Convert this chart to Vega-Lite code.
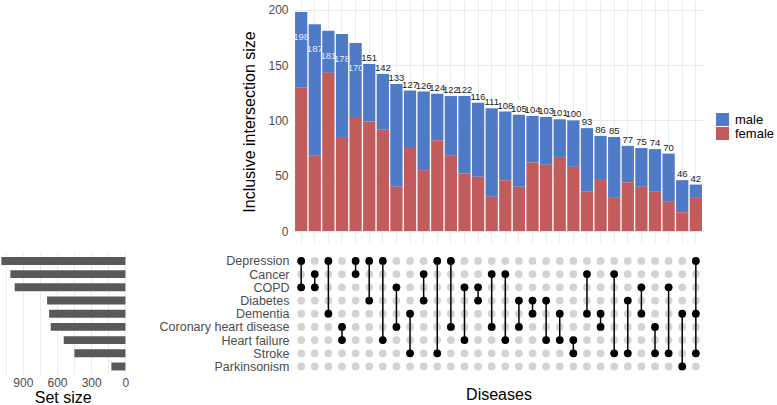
{
"$schema":"https://vega.github.io/schema/vega-lite/v6.json",
"padding":{"left":0,"top":1,"right":0,"bottom":0},
"config":{"view":{"stroke":null},"font":"Liberation Sans","axis":{"labelFont":"Liberation Sans","titleFont":"Liberation Sans"},"legend":{"labelFont":"Liberation Sans"}},
"datasets":{
"inter":[
{"r":1,"total":198,"female":130,"male":68,"Depression":1,"Cancer":0,"COPD":1,"Diabetes":0,"Dementia":0,"Coronary heart disease":0,"Heart failure":0,"Stroke":0,"Parkinsonism":0},
{"r":2,"total":187,"female":68,"male":119,"Depression":0,"Cancer":1,"COPD":1,"Diabetes":0,"Dementia":0,"Coronary heart disease":0,"Heart failure":0,"Stroke":0,"Parkinsonism":0},
{"r":3,"total":181,"female":143,"male":38,"Depression":1,"Cancer":0,"COPD":0,"Diabetes":0,"Dementia":1,"Coronary heart disease":0,"Heart failure":0,"Stroke":0,"Parkinsonism":0},
{"r":4,"total":178,"female":85,"male":93,"Depression":0,"Cancer":0,"COPD":0,"Diabetes":0,"Dementia":0,"Coronary heart disease":1,"Heart failure":1,"Stroke":0,"Parkinsonism":0},
{"r":5,"total":170,"female":103,"male":67,"Depression":1,"Cancer":1,"COPD":0,"Diabetes":0,"Dementia":0,"Coronary heart disease":0,"Heart failure":0,"Stroke":0,"Parkinsonism":0},
{"r":6,"total":151,"female":99,"male":52,"Depression":1,"Cancer":0,"COPD":0,"Diabetes":1,"Dementia":0,"Coronary heart disease":0,"Heart failure":0,"Stroke":0,"Parkinsonism":0},
{"r":7,"total":142,"female":92,"male":50,"Depression":1,"Cancer":0,"COPD":0,"Diabetes":0,"Dementia":0,"Coronary heart disease":0,"Heart failure":1,"Stroke":0,"Parkinsonism":0},
{"r":8,"total":133,"female":40,"male":93,"Depression":0,"Cancer":0,"COPD":1,"Diabetes":0,"Dementia":0,"Coronary heart disease":1,"Heart failure":0,"Stroke":0,"Parkinsonism":0},
{"r":9,"total":127,"female":75,"male":52,"Depression":0,"Cancer":0,"COPD":0,"Diabetes":0,"Dementia":1,"Coronary heart disease":0,"Heart failure":0,"Stroke":1,"Parkinsonism":0},
{"r":10,"total":126,"female":55,"male":71,"Depression":0,"Cancer":1,"COPD":0,"Diabetes":1,"Dementia":0,"Coronary heart disease":0,"Heart failure":0,"Stroke":0,"Parkinsonism":0},
{"r":11,"total":124,"female":82,"male":42,"Depression":1,"Cancer":0,"COPD":0,"Diabetes":0,"Dementia":0,"Coronary heart disease":0,"Heart failure":0,"Stroke":1,"Parkinsonism":0},
{"r":12,"total":122,"female":68,"male":54,"Depression":1,"Cancer":0,"COPD":0,"Diabetes":0,"Dementia":0,"Coronary heart disease":1,"Heart failure":0,"Stroke":0,"Parkinsonism":0},
{"r":13,"total":122,"female":52,"male":70,"Depression":0,"Cancer":0,"COPD":1,"Diabetes":0,"Dementia":0,"Coronary heart disease":0,"Heart failure":1,"Stroke":0,"Parkinsonism":0},
{"r":14,"total":116,"female":49,"male":67,"Depression":0,"Cancer":0,"COPD":1,"Diabetes":1,"Dementia":0,"Coronary heart disease":0,"Heart failure":0,"Stroke":0,"Parkinsonism":0},
{"r":15,"total":111,"female":31,"male":80,"Depression":0,"Cancer":1,"COPD":0,"Diabetes":0,"Dementia":0,"Coronary heart disease":1,"Heart failure":0,"Stroke":0,"Parkinsonism":0},
{"r":16,"total":108,"female":46,"male":62,"Depression":0,"Cancer":1,"COPD":0,"Diabetes":0,"Dementia":0,"Coronary heart disease":0,"Heart failure":1,"Stroke":0,"Parkinsonism":0},
{"r":17,"total":105,"female":40,"male":65,"Depression":0,"Cancer":0,"COPD":0,"Diabetes":1,"Dementia":0,"Coronary heart disease":1,"Heart failure":0,"Stroke":0,"Parkinsonism":0},
{"r":18,"total":104,"female":62,"male":42,"Depression":0,"Cancer":0,"COPD":0,"Diabetes":1,"Dementia":1,"Coronary heart disease":0,"Heart failure":0,"Stroke":0,"Parkinsonism":0},
{"r":19,"total":103,"female":60,"male":43,"Depression":0,"Cancer":0,"COPD":0,"Diabetes":1,"Dementia":0,"Coronary heart disease":0,"Heart failure":1,"Stroke":0,"Parkinsonism":0},
{"r":20,"total":101,"female":67,"male":34,"Depression":0,"Cancer":0,"COPD":0,"Diabetes":0,"Dementia":1,"Coronary heart disease":0,"Heart failure":1,"Stroke":0,"Parkinsonism":0},
{"r":21,"total":100,"female":58,"male":42,"Depression":0,"Cancer":0,"COPD":0,"Diabetes":0,"Dementia":0,"Coronary heart disease":0,"Heart failure":1,"Stroke":1,"Parkinsonism":0},
{"r":22,"total":93,"female":36,"male":57,"Depression":0,"Cancer":1,"COPD":0,"Diabetes":0,"Dementia":1,"Coronary heart disease":0,"Heart failure":0,"Stroke":0,"Parkinsonism":0},
{"r":23,"total":86,"female":47,"male":39,"Depression":0,"Cancer":0,"COPD":0,"Diabetes":0,"Dementia":1,"Coronary heart disease":1,"Heart failure":0,"Stroke":0,"Parkinsonism":0},
{"r":24,"total":85,"female":30,"male":55,"Depression":0,"Cancer":1,"COPD":0,"Diabetes":0,"Dementia":0,"Coronary heart disease":0,"Heart failure":0,"Stroke":1,"Parkinsonism":0},
{"r":25,"total":77,"female":44,"male":33,"Depression":0,"Cancer":0,"COPD":0,"Diabetes":1,"Dementia":0,"Coronary heart disease":0,"Heart failure":0,"Stroke":1,"Parkinsonism":0},
{"r":26,"total":75,"female":40,"male":35,"Depression":0,"Cancer":0,"COPD":1,"Diabetes":0,"Dementia":1,"Coronary heart disease":0,"Heart failure":0,"Stroke":0,"Parkinsonism":0},
{"r":27,"total":74,"female":36,"male":38,"Depression":0,"Cancer":0,"COPD":0,"Diabetes":0,"Dementia":0,"Coronary heart disease":1,"Heart failure":0,"Stroke":1,"Parkinsonism":0},
{"r":28,"total":70,"female":27,"male":43,"Depression":0,"Cancer":0,"COPD":1,"Diabetes":0,"Dementia":0,"Coronary heart disease":0,"Heart failure":0,"Stroke":1,"Parkinsonism":0},
{"r":29,"total":46,"female":17,"male":29,"Depression":0,"Cancer":0,"COPD":0,"Diabetes":0,"Dementia":1,"Coronary heart disease":0,"Heart failure":0,"Stroke":0,"Parkinsonism":1},
{"r":30,"total":42,"female":30,"male":12,"Depression":1,"Cancer":0,"COPD":0,"Diabetes":0,"Dementia":1,"Coronary heart disease":0,"Heart failure":0,"Stroke":1,"Parkinsonism":0}
],
"sets":[
{"set":"Depression","size":1088},
{"set":"Cancer","size":1009},
{"set":"COPD","size":971},
{"set":"Diabetes","size":687},
{"set":"Dementia","size":669},
{"set":"Coronary heart disease","size":655},
{"set":"Heart failure","size":541},
{"set":"Stroke","size":447},
{"set":"Parkinsonism","size":123}
]
},
"columns":2,
"spacing":{"row":11,"column":30},
"concat":[
{"width":125.4,"height":10,"data":{"values":[{"a":0}]},"mark":{"type":"point","opacity":0},"encoding":{}},
{"width":411,"height":241,"data":{"name":"inter"},
 "layer":[
  {"transform":[{"fold":["male","female"],"as":["sex","n"]}],
   "mark":{"type":"bar"},
   "encoding":{
    "x":{"field":"r","type":"ordinal","scale":{"paddingInner":0.1,"paddingOuter":0.15},"axis":{"labels":false,"ticks":false,"domain":false,"title":null,"grid":true,"gridColor":"#ebebeb"}},
    "y":{"field":"n","type":"quantitative","stack":"zero","scale":{"domain":[-9.9,207.9],"nice":false,"zero":false},
      "axis":{"values":[0,25,50,75,100,125,150,175,200],"labelExpr":"datum.value % 50 === 0 ? datum.label : ''","ticks":false,"domain":false,"title":"Inclusive intersection size","titleFontSize":16,"titleFontWeight":"normal","titleColor":"#000","labelFontSize":12,"labelColor":"#4d4d4d","labelPadding":5,"titlePadding":10,"gridColor":"#ebebeb","labelOverlap":false}},
    "color":{"field":"sex","type":"nominal","scale":{"domain":["male","female"],"range":["#4e7ac8","#c25b5b"]},
      "legend":{"title":null,"orient":"none","legendX":716,"legendY":112,"symbolType":"square","symbolSize":169,"symbolStrokeWidth":0,"labelFontSize":13,"labelColor":"#000","rowPadding":0,"labelOffset":6}},
    "order":{"field":"sex","sort":"ascending"}
   }},
  {"transform":[{"filter":"datum.total < 160"}],
   "mark":{"type":"text","baseline":"bottom","dy":-1,"fontSize":9.5,"color":"#222"},
   "encoding":{"x":{"field":"r","type":"ordinal"},"y":{"field":"total","type":"quantitative"},"text":{"field":"total","type":"quantitative"}}},
  {"transform":[{"filter":"datum.total >= 160"}],
   "mark":{"type":"text","baseline":"middle","dy":25,"fontSize":9.5,"color":"#e6ecf8"},
   "encoding":{"x":{"field":"r","type":"ordinal"},"y":{"field":"total","type":"quantitative"},"text":{"field":"total","type":"quantitative"}}}
 ]},
{"width":125.4,"height":121.4,"data":{"name":"sets"},
 "mark":{"type":"bar","color":"#595959"},
 "encoding":{
  "y":{"field":"set","type":"nominal","sort":["Depression","Cancer","COPD","Diabetes","Dementia","Coronary heart disease","Heart failure","Stroke","Parkinsonism"],"scale":{"paddingInner":0.4,"paddingOuter":0.3},"axis":null},
  "x":{"field":"size","type":"quantitative","scale":{"domain":[0,1100],"reverse":true,"nice":false},
    "axis":{"values":[0,150,300,450,600,750,900,1050],"labelExpr":"datum.value % 300 === 0 ? datum.label : ''","labelFlush":false,"labelOverlap":false,"ticks":false,"domain":false,"gridColor":"#ebebeb","labelFontSize":12,"labelColor":"#4d4d4d","labelPadding":3,"title":"Set size","titleFontSize":16,"titleFontWeight":"normal","titleColor":"#000","titlePadding":1}}
 }},
{"width":411,"height":121.4,"data":{"name":"inter"},
 "transform":[{"fold":["Depression","Cancer","COPD","Diabetes","Dementia","Coronary heart disease","Heart failure","Stroke","Parkinsonism"],"as":["set","m"]}],
 "encoding":{
  "x":{"field":"r","type":"ordinal","scale":{"type":"point","padding":0.6},"axis":{"labels":false,"ticks":false,"domain":false,"grid":false,"title":"Diseases","titleFontSize":16,"titleFontWeight":"normal","titleColor":"#000","titlePadding":12}},
  "y":{"field":"set","type":"nominal","sort":["Depression","Cancer","COPD","Diabetes","Dementia","Coronary heart disease","Heart failure","Stroke","Parkinsonism"],"scale":{"type":"point","padding":0.6},"axis":{"title":null,"ticks":false,"domain":false,"grid":false,"labelFontSize":12.5,"labelColor":"#4d4d4d","labelPadding":4}}
 },
 "layer":[
  {"mark":{"type":"circle","size":60,"opacity":1,"color":"#d3d3d3"}},
  {"transform":[{"filter":"datum.m == 1"}],"mark":{"type":"line","color":"#000","strokeWidth":1.5},"encoding":{"detail":{"field":"r","type":"ordinal"}}},
  {"transform":[{"filter":"datum.m == 1"}],"mark":{"type":"circle","size":60,"opacity":1,"color":"#000"}}
 ]}
]
}
